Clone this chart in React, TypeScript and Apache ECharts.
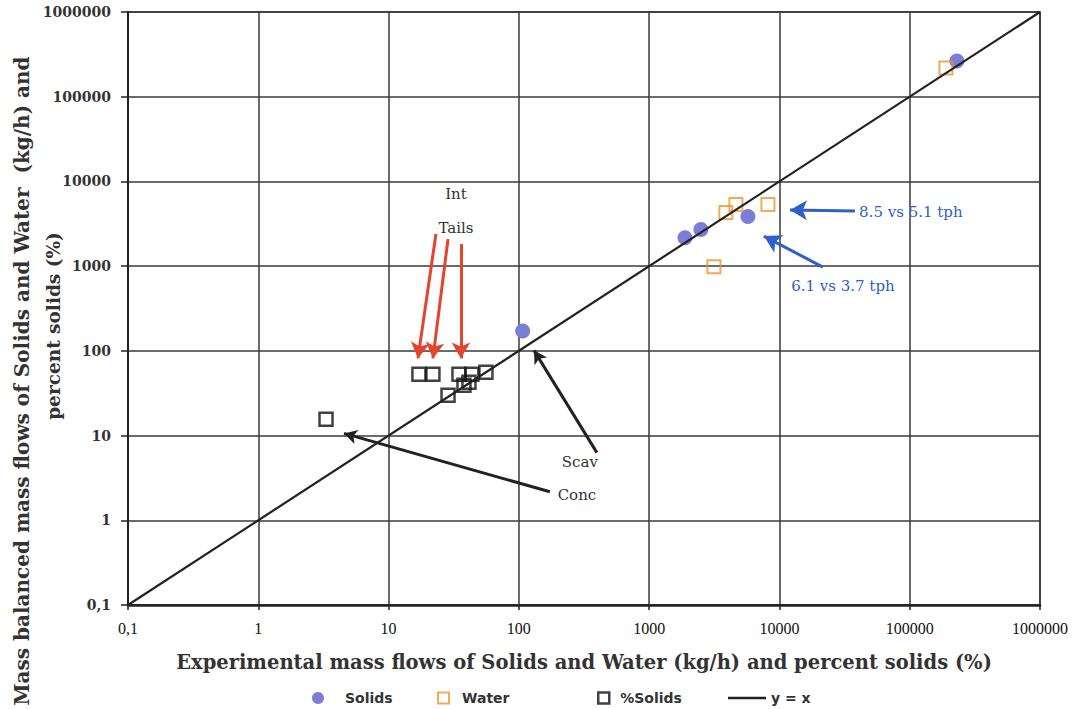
import React, { useEffect, useRef } from "react";
import * as echarts from "echarts";

// ---- data (experimental x, mass balanced y) ----
const solidsExp = [230000, 107, 1884, 2496, 5730];
const solidsBal = [264000, 172, 2170, 2700, 3850];
const waterExp = [189600, 3880, 4634, 8160, 3143];
const waterBal = [218000, 4290, 5340, 5340, 984];
const pctExp = [3.31, 17.1, 21.9, 34.7, 43.6, 55.9, 28.6, 37.9, 41.4];
const pctBal = [15.6, 53.1, 53.1, 53.1, 53.1, 56, 29.9, 39.3, 42.7];
const identityLine = [0.1, 1000000];

const tickLabels = ["0,1", "1", "10", "100", "1000", "10000", "100000", "1000000"];

// annotation arrows: [fromX, fromY, toX, toY]
const redArrows = [
  [23.1, 2393, 16.8, 81.5],
  [28.6, 2089, 21.9, 81.5],
  [35.9, 1820, 35.9, 81.5],
];
const blackArrows = [
  [397, 6.29, 130.6, 101.4],
  [173, 2.17, 4.55, 10.6],
];
const blueArrows = [
  [37970, 4477, 12050, 4600],
  [21580, 973, 7600, 2265],
];
// annotation texts: [label, x, y]
const blackNotes: [string, number, number][] = [
  ["Int", 32.9, 7110],
  ["Tails", 32.9, 2818],
  ["Scav", 294, 4.92],
  ["Conc", 279, 2.0],
];
const blueNotes: [string, number, number][] = [
  ["8.5 vs 5.1 tph", 102000, 4355],
  ["6.1 vs 3.7 tph", 30700, 580],
];

const SERIF = "'DejaVu Serif', serif";
const SOLID_COLOR = "#7b7ed6";
const WATER_COLOR = "#f0932e";
const RED = "#e4432c";
const BLUE = "#2f5fc8";

function zip(a: number[], b: number[]) {
  return a.map((v, i) => [v, b[i]]);
}

function tickFmt(v: number) {
  const i = Math.round(Math.log10(v)) + 1;
  return tickLabels[i] ?? "";
}

function arrowItems(list: number[][], color: string, width: number, head: number[]) {
  return list.map((a) => [
    { coord: [a[0], a[1]], symbol: "none", lineStyle: { color, width, type: "solid" } },
    { coord: [a[2], a[3]], symbol: "arrow", symbolSize: head },
  ]);
}

export default function App() {
  const ref = useRef<HTMLDivElement>(null);
  useEffect(() => {
    if (!ref.current) return;
    const chart = echarts.init(ref.current, null, { renderer: "svg" });
    const legendText = { fontFamily: "'DejaVu Sans', sans-serif", fontWeight: "bold", fontSize: 14, color: "#333" };
    chart.setOption({
      animation: false,
      backgroundColor: "#fff",
      grid: {
        left: 128,
        right: 35,
        top: 12,
        bottom: 104,
        show: true,
        borderColor: "#2a2a2a",
        borderWidth: 1.5,
      },
      xAxis: {
        type: "log",
        logBase: 10,
        min: 0.1,
        max: 1000000,
        name: "Experimental mass flows of Solids and Water (kg/h) and percent solids (%)",
        nameLocation: "middle",
        nameGap: 47,
        nameTextStyle: { fontFamily: SERIF, fontWeight: "bold", fontSize: 19.5, color: "#333" },
        axisLine: { show: true, lineStyle: { color: "#222", width: 2.5 } },
        axisTick: { show: true, length: 5, lineStyle: { color: "#222", width: 1.5 } },
        minorTick: { show: false },
        axisLabel: { formatter: tickFmt, fontFamily: "'Liberation Serif', serif", fontSize: 16, color: "#111", margin: 15 },
        splitLine: { show: true, lineStyle: { color: "#3a3a3a", width: 1.5 } },
      },
      yAxis: {
        type: "log",
        logBase: 10,
        min: 0.1,
        max: 1000000,
        axisLine: { show: true, lineStyle: { color: "#222", width: 2 } },
        axisTick: { show: true, length: 7, lineStyle: { color: "#222", width: 1.5 } },
        axisLabel: { formatter: tickFmt, fontFamily: SERIF, fontWeight: "bold", fontSize: 14, color: "#333", margin: 17 },
        splitLine: { show: true, lineStyle: { color: "#3a3a3a", width: 1.5 } },
      },
      legend: [
        {
          data: [{ name: "Solids", icon: "circle", itemStyle: { color: SOLID_COLOR } }],
          left: 307, top: 686, itemWidth: 12, itemHeight: 12, itemGap: 0,
          textStyle: { ...legendText, padding: [0, 0, 0, 16] },
        },
        {
          data: [{ name: "Water", icon: "rect", itemStyle: { color: "#fff", borderColor: WATER_COLOR, borderWidth: 2 } }],
          left: 432, top: 686, itemWidth: 11, itemHeight: 11,
          textStyle: { ...legendText, padding: [0, 0, 0, 8] },
        },
        {
          data: [{ name: "%Solids", icon: "rect", itemStyle: { color: "#fff", borderColor: "#111", borderWidth: 2.5 } }],
          left: 592, top: 686, itemWidth: 11, itemHeight: 11,
          textStyle: { ...legendText, padding: [0, 0, 0, 6] },
        },
        {
          data: [{ name: "y = x", icon: "rect", itemStyle: { color: "#222" } }],
          left: 723, top: 686, itemWidth: 38, itemHeight: 2.5, symbolKeepAspect: false,
          itemGap: 0,
          textStyle: { ...legendText },
        },
      ],
      graphic: [
        {
          type: "text",
          x: 22,
          y: 381,
          rotation: Math.PI / 2,
          style: {
            text: "Mass balanced mass flows of Solids and Water  (kg/h) and",
            font: "bold 20px 'DejaVu Serif', serif",
            fill: "#333",
            align: "center",
            verticalAlign: "middle",
          },
        },
        {
          type: "text",
          x: 53,
          y: 326,
          rotation: Math.PI / 2,
          style: {
            text: "percent solids (%)",
            font: "bold 18.5px 'DejaVu Serif', serif",
            fill: "#333",
            align: "center",
            verticalAlign: "middle",
          },
        },
      ],
      series: [
        {
          name: "Solids",
          type: "scatter",
          symbol: "circle",
          symbolSize: 15,
          itemStyle: { color: SOLID_COLOR, opacity: 1 },
          data: zip(solidsExp, solidsBal),
          z: 2,
        },
        {
          name: "Water",
          type: "scatter",
          symbol: "rect",
          symbolSize: 13,
          itemStyle: { color: "transparent", borderColor: WATER_COLOR, borderWidth: 2 },
          data: zip(waterExp, waterBal),
          z: 3,
        },
        {
          name: "%Solids",
          type: "scatter",
          symbol: "rect",
          symbolSize: 13,
          itemStyle: { color: "transparent", borderColor: "#111", borderWidth: 2.5 },
          data: zip(pctExp, pctBal),
          z: 4,
        },
        {
          name: "y = x",
          type: "line",
          symbol: "none",
          lineStyle: { color: "#222", width: 2.2 },
          data: identityLine.map((v) => [v, v]),
          z: 5,
          silent: true,
          markLine: {
            silent: true,
            symbol: ["none", "arrow"],
            label: { show: false },
            emphasis: { disabled: true },
            data: [
              ...arrowItems(redArrows, RED, 3, [14, 16]),
              ...arrowItems(blackArrows, "#222", 3, [11, 13]),
              ...arrowItems(blueArrows, BLUE, 3, [15, 17]),
            ],
          },
          markPoint: {
            silent: true,
            symbol: "circle",
            symbolSize: 0,
            data: [
              ...blackNotes.map(([t, x, y]) => ({
                coord: [x, y],
                label: { show: true, position: "inside", formatter: t, fontFamily: SERIF, fontSize: 15, color: "#333" },
              })),
              ...blueNotes.map(([t, x, y]) => ({
                coord: [x, y],
                label: { show: true, position: "inside", formatter: t, fontFamily: SERIF, fontSize: 15, color: BLUE },
              })),
            ],
          },
        },
      ],
    });
    return () => chart.dispose();
  }, []);
  return <div ref={ref} style={{ width: 1075, height: 709, position: "absolute", left: 0, top: 0 }} />;
}
